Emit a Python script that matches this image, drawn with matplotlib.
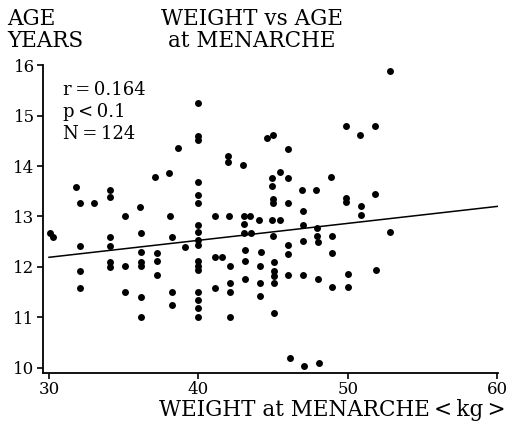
import matplotlib
matplotlib.use("Agg")
import matplotlib.pyplot as plt

# Weight at menarche (kg) and age at menarche (years)
weight = [
    30.1, 30.3,
    31.8, 32.05, 32.1, 32.1, 32.1,
    33.0,
    34.1, 34.1, 34.1, 34.1, 34.1, 34.1,
    35.1, 35.1, 35.1,
    36.1, 36.15, 36.15, 36.15, 36.15, 36.15, 36.15,
    37.1, 37.2, 37.2, 37.2,
    38.0, 38.1, 38.2, 38.2, 38.2,
    38.65,
    39.1,
    40.0, 40.0, 40.0, 40.0, 40.0, 40.0, 40.0, 40.0, 40.0, 40.0, 40.0, 40.0, 40.0, 40.0, 40.0, 40.0, 40.0,
    41.1, 41.1, 41.1, 41.6,
    42.0, 42.0, 42.06, 42.1, 42.1, 42.1, 42.1,
    43.0, 43.06, 43.06, 43.06, 43.1, 43.1, 43.1,
    43.44, 43.5,
    44.07, 44.16, 44.1, 44.1, 44.1,
    44.56,
    44.96, 44.94, 44.94, 44.96, 44.96, 44.94, 44.96, 45.05, 45.05, 45.05, 45.05, 45.05,
    45.45, 45.45,
    45.97, 45.97, 45.97, 46.0, 46.0, 46.0, 46.1,
    46.94, 46.97, 46.97, 46.97, 46.97, 47.06,
    47.9, 47.97, 47.97, 48.0, 48.0, 48.06,
    48.9, 48.95, 48.95, 48.95,
    49.85, 49.9, 49.9, 50.0, 50.0,
    50.8, 50.9, 50.9,
    51.8, 51.8, 51.9,
    52.8, 52.85,
]
age = [
    12.67, 12.60,
    13.58, 13.27, 12.42, 11.91, 11.58,
    13.27,
    13.53, 13.38, 12.60, 12.42, 12.09, 11.99,
    13.01, 12.01, 11.50,
    13.19, 12.68, 12.29, 12.09, 12.01, 11.41, 11.00,
    13.78, 12.27, 12.11, 11.83,
    13.86, 13.01, 12.60, 11.51, 11.25,
    14.36,
    12.40,
    15.25, 14.60, 14.51, 13.68, 13.43, 13.27, 12.84, 12.70, 12.54, 12.44, 12.11, 12.02, 11.93, 11.51, 11.35, 11.19, 11.00,
    13.01, 12.19, 11.59, 12.19,
    14.20, 14.09, 13.01, 12.01, 11.68, 11.51, 11.00,
    14.03, 13.01, 12.85, 12.68, 12.34, 12.11, 11.76,
    13.01, 12.68,
    12.93, 12.29, 12.01, 11.68, 11.43,
    14.56,
    14.61, 13.76, 13.60, 13.35, 13.27, 12.93, 12.62, 12.10, 11.91, 11.81, 11.68, 11.08,
    13.88, 12.93,
    14.34, 13.77, 13.27, 12.44, 12.26, 11.84, 10.19,
    13.52, 13.10, 12.84, 12.52, 11.84, 10.04,
    13.52, 12.77, 12.62, 12.50, 11.76, 10.10,
    13.79, 12.62, 12.27, 11.60,
    14.79, 13.36, 13.29, 11.86, 11.60,
    14.62, 13.20, 13.03,
    14.79, 13.44, 11.93,
    15.88, 12.70,
]

# Regression line end points as drawn
fit_x = [30, 60]
fit_y = [12.19, 13.20]

x_ticks = [30, 40, 50, 60]
y_ticks = [10, 11, 12, 13, 14, 15, 16]

stats_lines = ["r\u2009=\u20090.164", "p\u2009<\u20090.1", "N\u2009=\u2009124"]

FONT = "DejaVu Serif"
plt.rcParams["font.family"] = [FONT, "DejaVu Sans"]

fig = plt.figure(figsize=(5.10, 4.33), dpi=100)
W, H = 510, 433
ax = fig.add_axes([43 / W, 1 - 372.7 / H, (498 - 43) / W, (372.7 - 65.3) / H])

ax.scatter(weight, age, s=25, color="black", linewidths=0, zorder=3)
ax.plot(fit_x, fit_y, color="black", lw=1.1, zorder=2)

ax.set_xlim(29.6, 60.05)
ax.set_ylim(9.9, 16.0)
ax.set_xticks(x_ticks)
ax.set_yticks(y_ticks)
ax.set_xticklabels([str(t) for t in x_ticks], fontsize=12, family=FONT)
ax.set_yticklabels([str(t) for t in y_ticks], fontsize=12, family=FONT)
ax.tick_params(direction="out", length=4, width=1.2, pad=2, colors="black")

for s in ("top", "right"):
    ax.spines[s].set_visible(False)
for s in ("left", "bottom"):
    ax.spines[s].set_linewidth(1.3)
    ax.spines[s].set_color("black")

# Headings
fig.text(7 / W, 1 - 8 / H, "AGE\nYEARS", ha="left", va="top", fontsize=15.5,
         family=FONT, linespacing=1.0)
fig.text(252 / W, 1 - 8 / H, "WEIGHT vs AGE\nat MENARCHE", ha="center", va="top",
         fontsize=15.5, family=FONT, linespacing=1.0)
fig.text(506 / W, 1 - 421 / H, "WEIGHT at MENARCHE\u2009<\u2009kg\u2009>", ha="right",
         va="bottom", fontsize=15.5, family=FONT)

ax.text(0.045, 0.95, "\n".join(stats_lines), transform=ax.transAxes, ha="left",
        va="top", fontsize=13, family=FONT, linespacing=1.3)

fig.savefig("out.png", dpi=100)
